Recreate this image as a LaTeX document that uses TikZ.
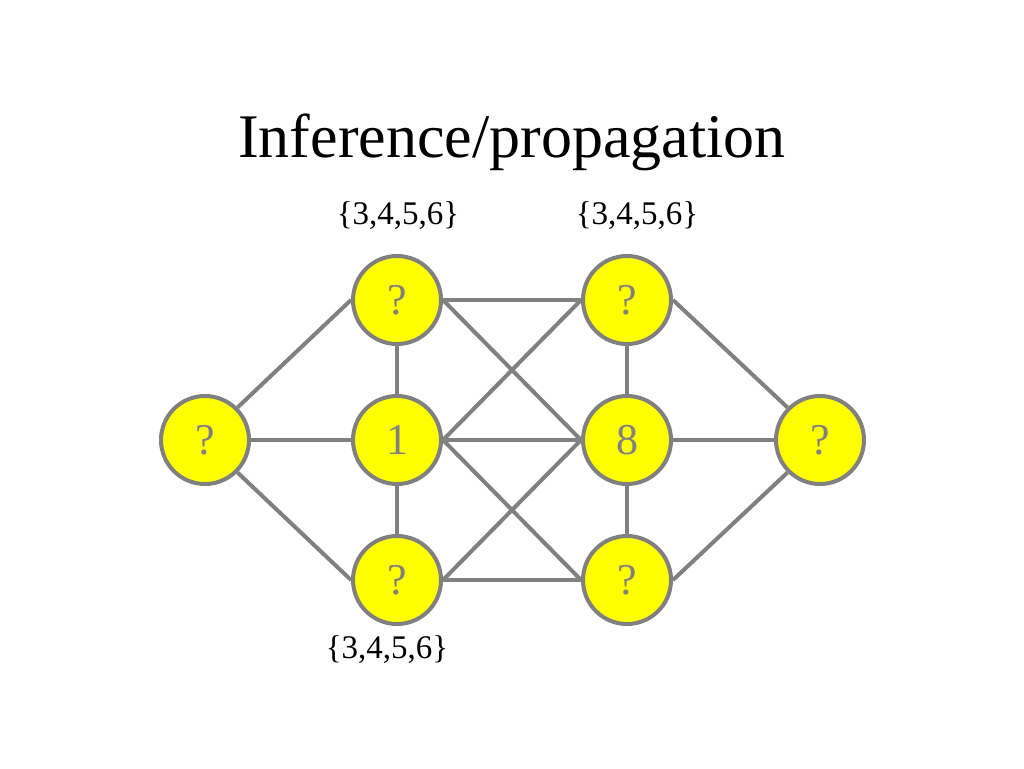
\documentclass[tikz,border=0pt]{standalone}
\usepackage{fontspec}
\newfontfamily\timesfont{Liberation Serif}
\definecolor{edgegray}{HTML}{808080}
\definecolor{nodeyellow}{HTML}{FFFF00}
\begin{document}
\begin{tikzpicture}[x=1pt,y=-1pt,
  var/.style={circle,draw=edgegray,fill=nodeyellow,line width=4pt,minimum size=88pt,inner sep=0pt,text=edgegray,font=\timesfont\fontsize{44}{48}\selectfont},
  edge/.style={draw=edgegray,line width=4pt},
  dom/.style={font=\timesfont\fontsize{33}{36}\selectfont,anchor=base,inner sep=0pt},
  title/.style={font=\timesfont\fontsize{62}{66}\selectfont,anchor=base,inner sep=0pt}]
\useasboundingbox[fill=white] (0,0) rectangle (1024,768);
\node[title] (t) at (512,157) {Inference/propagation};
\node[var] (L) at (205,440) {?};
\node[var] (A1) at (397,300) {?};
\node[var] (A2) at (397,440) {1};
\node[var] (A3) at (397,580) {?};
\node[var] (B1) at (627,300) {?};
\node[var] (B2) at (627,440) {8};
\node[var] (B3) at (627,580) {?};
\node[var] (R) at (820,440) {?};
\node[dom] (d1) at (398,224) {\{3,4,5,6\}};
\node[dom] (d2) at (637,224) {\{3,4,5,6\}};
\node[dom] (d3) at (387,658) {\{3,4,5,6\}};
\path[edge] (L.north east) -- (A1.west);
\path[edge] (L.east) -- (A2.west);
\path[edge] (L.south east) -- (A3.west);
\path[edge] (A1.south) -- (A2.north);
\path[edge] (A2.south) -- (A3.north);
\path[edge] (B1.south) -- (B2.north);
\path[edge] (B2.south) -- (B3.north);
\path[edge] (A1.east) -- (B1.west);
\path[edge] (A1.east) -- (B2.west);
\path[edge] (A2.east) -- (B1.west);
\path[edge] (A2.east) -- (B2.west);
\path[edge] (A2.east) -- (B3.west);
\path[edge] (A3.east) -- (B2.west);
\path[edge] (A3.east) -- (B3.west);
\path[edge] (B1.east) -- (R.north west);
\path[edge] (B2.east) -- (R.west);
\path[edge] (B3.east) -- (R.south west);
\end{tikzpicture}
\end{document}
